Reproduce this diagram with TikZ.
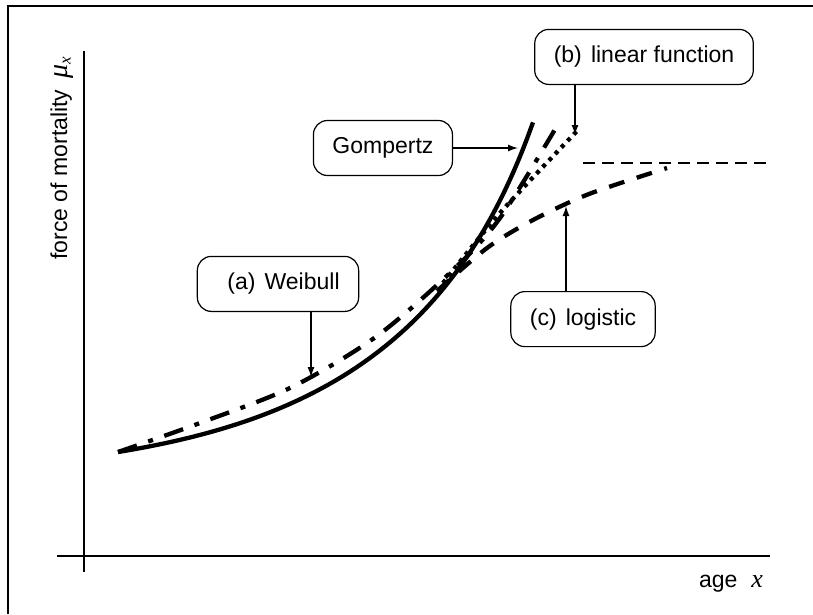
\documentclass[tikz,border=0pt]{standalone}
\usepackage{fontspec}
\setmainfont{Liberation Sans}
\newfontfamily\serifit{Liberation Serif}
\usetikzlibrary{arrows.meta, positioning}

\begin{document}
\begin{tikzpicture}[x=1pt, y=-1pt, >={Latex[length=10pt,width=7pt]},
        every node/.style={font=\fontsize{23}{27}\selectfont},
        bx/.style={draw, rounded corners=14pt, line width=1.2pt,
            minimum height=55pt, inner xsep=19pt},
        ar/.style={line width=1.3pt},
        ax/.style={line width=1.5pt},
        cv/.style={line width=4.3pt, smooth}]
    \useasboundingbox (0,0) rectangle (813,614);
    \draw[line width=2pt] (8,614) -- (8,6) -- (813,6);

    % axes and their labels
    \draw[ax] (84,51) -- (84,572);
    \draw[ax] (57,556) -- (770,556);
    \node(ylab)[rotate=90, anchor=base, inner sep=0] at (67,158)
        {force of mortality\hspace{0.5em}{\fontsize{28}{28}\selectfont\serifit\itshape μ}\raisebox{-0.3ex}{\fontsize{17}{17}\selectfont\serifit\itshape x}};
    \node(xlab)[anchor=base, inner sep=0] at (731,587)
        {age\hspace{0.6em}{\fontsize{26}{26}\selectfont\serifit\itshape x}};

    % the four hazard curves
    \draw[cv] plot[domain=118:533, samples=60]
        (\x, {480 - 28*exp(0.0058*(\x-118)) - 47*exp(0.0215*(\x-533))});
    \draw[cv, dash pattern=on 20pt off 12pt on 5pt off 12pt] plot coordinates {
        (118,452) (200,423) (292,387) (377,336) (453,270) (500,218) (557,126)};
    \draw[cv, dash pattern=on 4pt off 5pt] plot coordinates {(443,283)
        (500,213) (578,130)};
    \draw[cv, dash pattern=on 16pt off 13pt] plot coordinates {(437,291)
        (487,248) (533,220) (589,194) (667,168)};
    \draw[ax, dash pattern=on 12pt off 7pt] (583,163) -- (770,163);

    % callouts pointing at the curves
    \coordinate(gt) at (518,148);
    \coordinate(wt) at (311,377);
    \coordinate(lt) at (575,135);
    \coordinate(ct) at (566,206);
    \node(gomp)[bx, left=65pt of gt] {Gompertz};
    \node(weib)[bx, above=65pt of wt, xshift=-33pt] {\hspace{11pt}(a)\hspace{0.4em}Weibull};
    \node(lin)[bx, above=50pt of lt, xshift=69pt] {(b)\hspace{0.4em}linear function};
    \node(logi)[bx, below=85pt of ct, xshift=17pt] {(c)\hspace{0.4em}logistic};
    \draw[ar,->] (gomp.east) -- (gt);
    \draw[ar,->] (weib.south -| wt) -- (wt);
    \draw[ar,->] (lin.south -| lt) -- (lt);
    \draw[ar,->] (logi.north -| ct) -- (ct);
\end{tikzpicture}
\end{document}
